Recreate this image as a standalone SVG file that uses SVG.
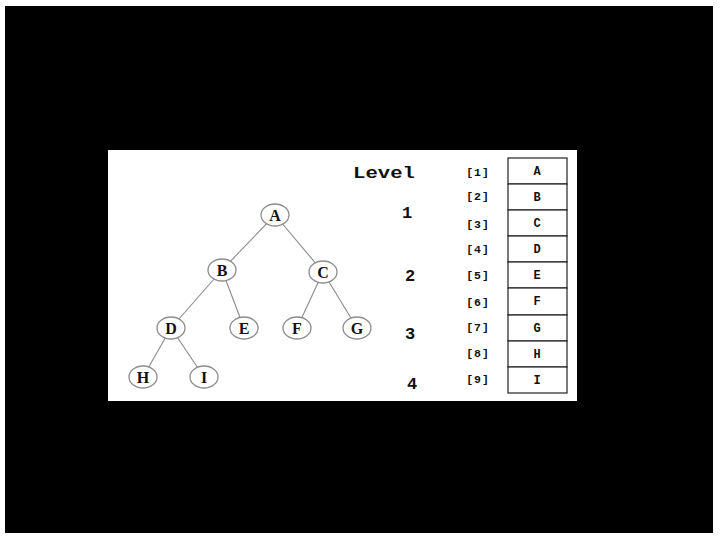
<svg xmlns="http://www.w3.org/2000/svg" width="720" height="540" viewBox="0 0 720 540">
<style>
.edge{stroke:#8a8a8a;stroke-width:1.1;fill:none}
.node ellipse{fill:#fff;stroke:#8c8c8c;stroke-width:1.3}
.node text{font-family:"Liberation Serif",serif;font-weight:bold;font-size:16px;fill:#111;text-anchor:middle}
.lvl{font-family:"Liberation Mono",monospace;font-weight:bold;font-size:17px;fill:#111;text-anchor:middle}
.idx{font-family:"Liberation Mono",monospace;font-weight:bold;font-size:11.5px;fill:#111;text-anchor:middle;letter-spacing:1px}
.cell rect{fill:#fff;stroke:#222;stroke-width:1.2}
.cell text{font-family:"Liberation Mono",monospace;font-weight:bold;font-size:12px;fill:#111;text-anchor:middle}
</style>
<rect x="0" y="0" width="720" height="540" fill="#fff"/>
<rect x="5" y="6" width="708" height="527" fill="#000"/>
<rect x="108" y="150" width="469" height="251" fill="#fff"/>
<g id="connectors">
<line class="edge" x1="275" y1="215" x2="222" y2="270"/>
<line class="edge" x1="275" y1="215" x2="323" y2="272"/>
<line class="edge" x1="222" y1="270" x2="171" y2="328"/>
<line class="edge" x1="222" y1="270" x2="244" y2="328"/>
<line class="edge" x1="323" y1="272" x2="297" y2="328"/>
<line class="edge" x1="323" y1="272" x2="357" y2="328"/>
<line class="edge" x1="171" y1="328" x2="143" y2="377"/>
<line class="edge" x1="171" y1="328" x2="204" y2="377"/>
</g>
<g id="node-A" class="node"><ellipse cx="275" cy="215" rx="14" ry="11"/><text x="275" y="220.5">A</text></g>
<g id="node-B" class="node"><ellipse cx="222" cy="270" rx="14" ry="11"/><text x="222" y="275.5">B</text></g>
<g id="node-C" class="node"><ellipse cx="323" cy="272" rx="14" ry="11"/><text x="323" y="277.5">C</text></g>
<g id="node-D" class="node"><ellipse cx="171" cy="328" rx="14" ry="11"/><text x="171" y="333.5">D</text></g>
<g id="node-E" class="node"><ellipse cx="244" cy="328" rx="14" ry="11"/><text x="244" y="333.5">E</text></g>
<g id="node-F" class="node"><ellipse cx="297" cy="328" rx="14" ry="11"/><text x="297" y="333.5">F</text></g>
<g id="node-G" class="node"><ellipse cx="357" cy="328" rx="14" ry="11"/><text x="357" y="333.5">G</text></g>
<g id="node-H" class="node"><ellipse cx="143" cy="377" rx="14" ry="11"/><text x="143" y="382.5">H</text></g>
<g id="node-I" class="node"><ellipse cx="204" cy="377" rx="14" ry="11"/><text x="204" y="382.5">I</text></g>
<g id="levels">
<text class="lvl" x="384" y="178" textLength="62" lengthAdjust="spacingAndGlyphs">Level</text>
<text class="lvl" x="407" y="218">1</text>
<text class="lvl" x="410" y="281">2</text>
<text class="lvl" x="410" y="339">3</text>
<text class="lvl" x="412" y="389">4</text>
</g>
<g id="indices">
<text class="idx" x="478" y="176">[1]</text>
<text class="idx" x="478" y="200">[2]</text>
<text class="idx" x="478" y="228">[3]</text>
<text class="idx" x="478" y="253">[4]</text>
<text class="idx" x="478" y="279">[5]</text>
<text class="idx" x="478" y="306">[6]</text>
<text class="idx" x="478" y="331">[7]</text>
<text class="idx" x="478" y="357">[8]</text>
<text class="idx" x="478" y="383">[9]</text>
</g>
<g id="array">
<g class="cell"><rect x="508" y="158" width="59" height="26"/><text x="537" y="175">A</text></g>
<g class="cell"><rect x="508" y="184" width="59" height="26"/><text x="537" y="201">B</text></g>
<g class="cell"><rect x="508" y="210" width="59" height="26"/><text x="537" y="227">C</text></g>
<g class="cell"><rect x="508" y="236" width="59" height="26"/><text x="537" y="253">D</text></g>
<g class="cell"><rect x="508" y="262" width="59" height="26"/><text x="537" y="279">E</text></g>
<g class="cell"><rect x="508" y="288" width="59" height="27"/><text x="537" y="305">F</text></g>
<g class="cell"><rect x="508" y="315" width="59" height="26"/><text x="537" y="332">G</text></g>
<g class="cell"><rect x="508" y="341" width="59" height="26"/><text x="537" y="358">H</text></g>
<g class="cell"><rect x="508" y="367" width="59" height="26"/><text x="537" y="384">I</text></g>
</g>
</svg>
